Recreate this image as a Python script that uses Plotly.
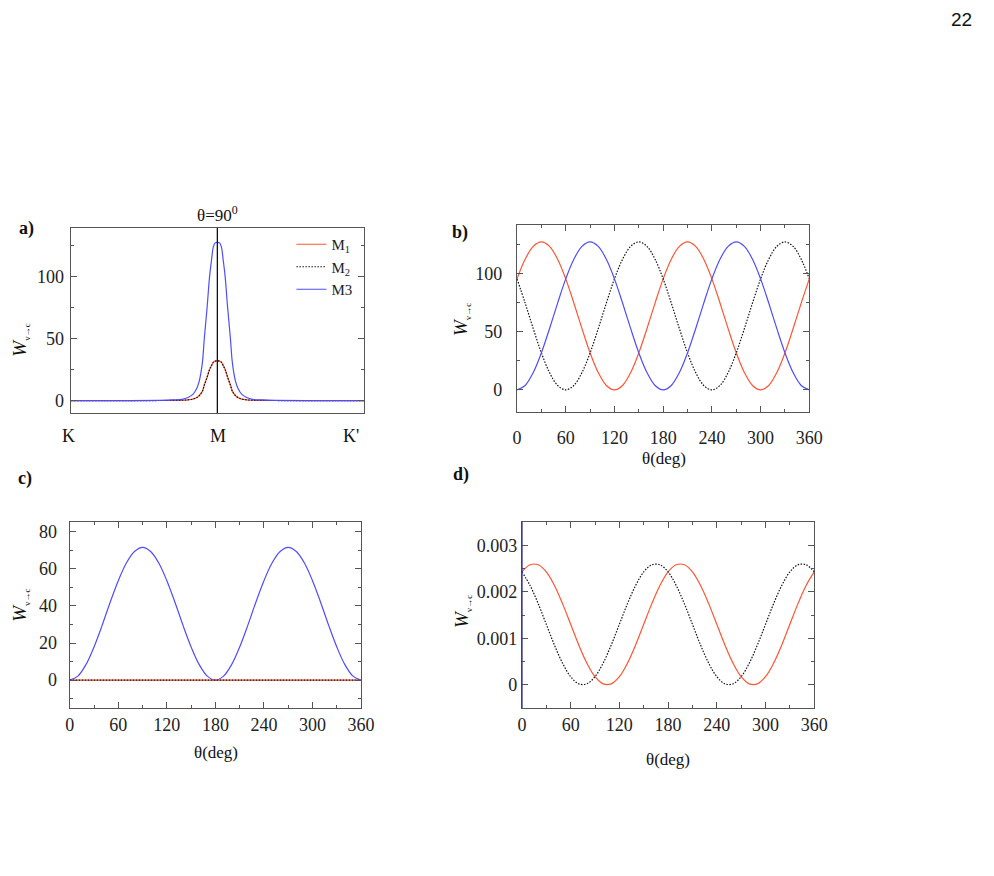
import plotly.graph_objects as go

W, H = 994, 876

# ---------------- data ----------------
# panel a: along K - M - K' path (M at 0)
a_x = [-1.0, -0.6, -0.4, -0.3, -0.24, -0.2, -0.167, -0.14, -0.125, -0.11, -0.1, -0.089,
       -0.07, -0.053, -0.04, -0.027, -0.015, 0.0,
       0.015, 0.027, 0.04, 0.053, 0.07, 0.089, 0.1, 0.11, 0.125, 0.14, 0.167, 0.2, 0.24,
       0.3, 0.4, 0.6, 1.0]
a_m3 = [0, 0, 0.2, 0.5, 1, 2.5, 5, 10, 15, 24, 33, 50,
        75, 100, 113, 124, 127, 127.5,
        127, 124, 113, 100, 75, 50, 33, 24, 15, 10, 5, 2.5, 1,
        0.5, 0.2, 0, 0]
a_m1 = [0, 0, 0.05, 0.12, 0.25, 0.6, 1.2, 2.5, 3.8, 6, 8.2, 12.5,
        18.8, 25, 28.2, 31, 31.8, 31.9,
        31.8, 31, 28.2, 25, 18.8, 12.5, 8.2, 6, 3.8, 2.5, 1.2, 0.6, 0.25,
        0.12, 0.05, 0, 0]
a_m2 = list(a_m1)

theta = [0, 10, 20, 30, 40, 50, 60, 70, 80, 90, 100, 110, 120, 130, 140, 150, 160, 170, 180,
         190, 200, 210, 220, 230, 240, 250, 260, 270, 280, 290, 300, 310, 320, 330, 340, 350, 360]

b_m1 = [95.25, 112.1, 123.2, 127, 123.2, 112.1, 95.25, 74.5, 52.5, 31.75, 14.9, 3.8, 0,
        3.8, 14.9, 31.75, 52.5, 74.5, 95.25,
        112.1, 123.2, 127, 123.2, 112.1, 95.25, 74.5, 52.5, 31.75, 14.9, 3.8, 0,
        3.8, 14.9, 31.75, 52.5, 74.5, 95.25]
b_m2 = [95.25, 74.5, 52.5, 31.75, 14.9, 3.8, 0, 3.8, 14.9, 31.75, 52.5, 74.5, 95.25,
        112.1, 123.2, 127, 123.2, 112.1, 95.25,
        74.5, 52.5, 31.75, 14.9, 3.8, 0, 3.8, 14.9, 31.75, 52.5, 74.5, 95.25,
        112.1, 123.2, 127, 123.2, 112.1, 95.25]
b_m3 = [0, 3.8, 14.9, 31.75, 52.5, 74.5, 95.25, 112.1, 123.2, 127, 123.2, 112.1, 95.25,
        74.5, 52.5, 31.75, 14.9, 3.8, 0,
        3.8, 14.9, 31.75, 52.5, 74.5, 95.25, 112.1, 123.2, 127, 123.2, 112.1, 95.25,
        74.5, 52.5, 31.75, 14.9, 3.8, 0]

c_m1 = [0] * 37
c_m2 = [0] * 37
c_m3 = [0, 2.16, 8.36, 17.9, 29.5, 42.0, 53.6, 63.1, 69.3, 71.5, 69.3, 63.1, 53.6,
        42.0, 29.5, 17.9, 8.36, 2.16, 0,
        2.16, 8.36, 17.9, 29.5, 42.0, 53.6, 63.1, 69.3, 71.5, 69.3, 63.1, 53.6,
        42.0, 29.5, 17.9, 8.36, 2.16, 0]

d_m1 = [0.002427, 0.00258, 0.00258, 0.002427, 0.002135, 0.001745, 0.0013, 0.000855,
        0.000465, 0.000174, 0.00002, 0.00002, 0.000174, 0.000465, 0.000855, 0.0013,
        0.001745, 0.002135, 0.002427,
        0.00258, 0.00258, 0.002427, 0.002135, 0.001745, 0.0013, 0.000855,
        0.000465, 0.000174, 0.00002, 0.00002, 0.000174, 0.000465, 0.000855, 0.0013,
        0.001745, 0.002135, 0.002427]
d_m2 = [0.002427, 0.002135, 0.001745, 0.0013, 0.000855, 0.000465, 0.000174, 0.00002,
        0.00002, 0.000174, 0.000465, 0.000855, 0.0013, 0.001745, 0.002135, 0.002427,
        0.00258, 0.00258, 0.002427,
        0.002135, 0.001745, 0.0013, 0.000855, 0.000465, 0.000174, 0.00002,
        0.00002, 0.000174, 0.000465, 0.000855, 0.0013, 0.001745, 0.002135, 0.002427,
        0.00258, 0.00258, 0.002427]

theta_ticks = [0, 60, 120, 180, 240, 300, 360]
path_labels = ["K", "M", "K'"]

# ---------------- styles ----------------
ORANGE = "#ff5533"
BLUE = "#4d4dff"
BLACK = "#111111"
FONT = "Liberation Serif"
AXC = "#555555"
DOT = "1.5px,1.5px"


def px_x(p):
    return p / W


def px_y(p):
    return 1 - p / H


fig = go.Figure()


def add(xv, yv, ax, color, dash="solid", name=None, show=False):
    fig.add_trace(go.Scatter(
        x=xv, y=yv, mode="lines", xaxis="x" + ax, yaxis="y" + ax,
        line=dict(color=color, width=1.2, dash=dash, shape="spline", smoothing=1.0),
        name=name, showlegend=show))


# panel a
add(a_x, a_m1, "", ORANGE, "solid", "M<sub>1</sub>", True)
add(a_x, a_m2, "", BLACK, DOT, "M<sub>2</sub>", True)
add(a_x, a_m3, "", BLUE, "solid", "M3", True)
# panel b
add(theta, b_m1, "2", ORANGE)
add(theta, b_m2, "2", BLACK, DOT)
add(theta, b_m3, "2", BLUE)
# panel c
add(theta, c_m3, "3", BLUE)
add(theta, c_m1, "3", ORANGE)
add(theta, c_m2, "3", BLACK, DOT)
# panel d
add(theta, d_m1, "4", ORANGE)
add(theta, d_m2, "4", BLACK, DOT)

tickfont = dict(family=FONT, size=18, color="#222222")


def xaxis(dom, rng, anchor, tickvals=None, minor=None, standoff=6):
    d = dict(domain=[px_x(dom[0]), px_x(dom[1])], range=rng, showgrid=False,
             zeroline=False, showline=True, linecolor=AXC, linewidth=1.2,
             mirror="allticks", tickfont=tickfont, anchor=anchor)
    if tickvals is not None:
        d.update(tickmode="array", tickvals=tickvals, ticks="inside",
                 ticklen=6, tickcolor=AXC, showticklabels=True,
                 ticklabelstandoff=standoff)
        if minor:
            d["minor"] = dict(ticks="inside", ticklen=3, tickcolor=AXC, dtick=minor, tick0=0)
    else:
        d.update(showticklabels=False, ticks="", mirror=True)
    return d


def yaxis(anchor, dom, rng, dtick, minor, standoff, fmt=None):
    d = dict(domain=[px_y(dom[1]), px_y(dom[0])], range=rng, showgrid=False,
             zeroline=False, showline=True, linecolor=AXC, linewidth=1.2,
             mirror="allticks", ticks="inside", ticklen=6, tickcolor=AXC,
             tick0=0, dtick=dtick, tickfont=tickfont, anchor=anchor,
             ticklabelstandoff=standoff,
             minor=dict(ticks="inside", ticklen=3, tickcolor=AXC, dtick=minor, tick0=0))
    if fmt:
        d["tickformat"] = fmt
    return d


fig.update_layout(
    width=W, height=H, margin=dict(l=0, r=0, t=0, b=0),
    plot_bgcolor="white", paper_bgcolor="white",
    font=dict(family=FONT, color="#222222"),
    xaxis=xaxis([67, 366], [-1, 1], "y"),
    yaxis=yaxis("x", [228, 413], [-10, 139], 50, 25, 2),
    xaxis2=xaxis([522, 820], [0, 360], "y2", theta_ticks, 30, standoff=9),
    yaxis2=yaxis("x2", [225, 412], [-19, 141.5], 50, 25, 10),
    xaxis3=xaxis([66, 363], [0, 360], "y3", theta_ticks, 30, standoff=0),
    yaxis3=yaxis("x3", [522, 708], [-15, 85.2], 20, 10, 8),
    xaxis4=xaxis([527, 825], [0, 360], "y4", theta_ticks, 30, standoff=0),
    yaxis4=yaxis("x4", [522, 708], [-0.0005, 0.0035], 0.001, 0.0005, 0, fmt="~g"),
    legend=dict(x=px_x(292), y=px_y(228), xanchor="left", yanchor="top",
                bgcolor="rgba(0,0,0,0)", font=dict(family=FONT, size=15, color="#222222"),
                tracegroupgap=0, itemwidth=30),
)

# vertical line at M in panel a
fig.add_shape(type="line", xref="x", yref="y domain", x0=0, x1=0, y0=0, y1=1,
              line=dict(color="#111111", width=1.3))
# blue-ish left edge in panel d
fig.add_shape(type="line", xref="x4 domain", yref="y4 domain", x0=0, x1=0, y0=0, y1=1,
              line=dict(color="#3a3a9a", width=1.5))

ann = []


def text(x, y, s, size=17, family=FONT, **kw):
    d = dict(x=px_x(x), y=px_y(y), xref="paper", yref="paper", text=s, showarrow=False,
             xanchor="center", yanchor="middle",
             font=dict(family=family, size=size, color="#111111"))
    d.update(kw)
    ann.append(d)


# panel labels
text(22, 229, "<b>a)</b>", 18)
text(464, 232, "<b>b)</b>", 18)
text(20, 478, "<b>c)</b>", 18)
text(465, 474, "<b>d)</b>", 18)
# title of a
text(217, 214, "θ=90<sup>0</sup>", 17)
# K M K' labels
for lab, xp in zip(path_labels, [65, 217, 353]):
    text(xp, 436, lab, 18)
# x titles
text(672, 458, "θ(deg)", 17)
text(215, 752, "θ(deg)", 17)
text(676, 759, "θ(deg)", 17)
# y titles
ytitle = "<i>W</i><sub><span style='font-size:9px'>v→c</span></sub>"
for xp, yp in [(16, 340), (465, 320), (15, 605), (466, 612)]:
    text(xp, yp, ytitle, 19, textangle=-90)
# page number
text(975, 20, "22", 19, family="Liberation Sans")
# text at the bottom edge, cut by the page
text(691, 871, "<i>K      M      K'</i>", 22, yanchor="top")

fig.update_layout(annotations=ann)

fig.write_html("out.html")
